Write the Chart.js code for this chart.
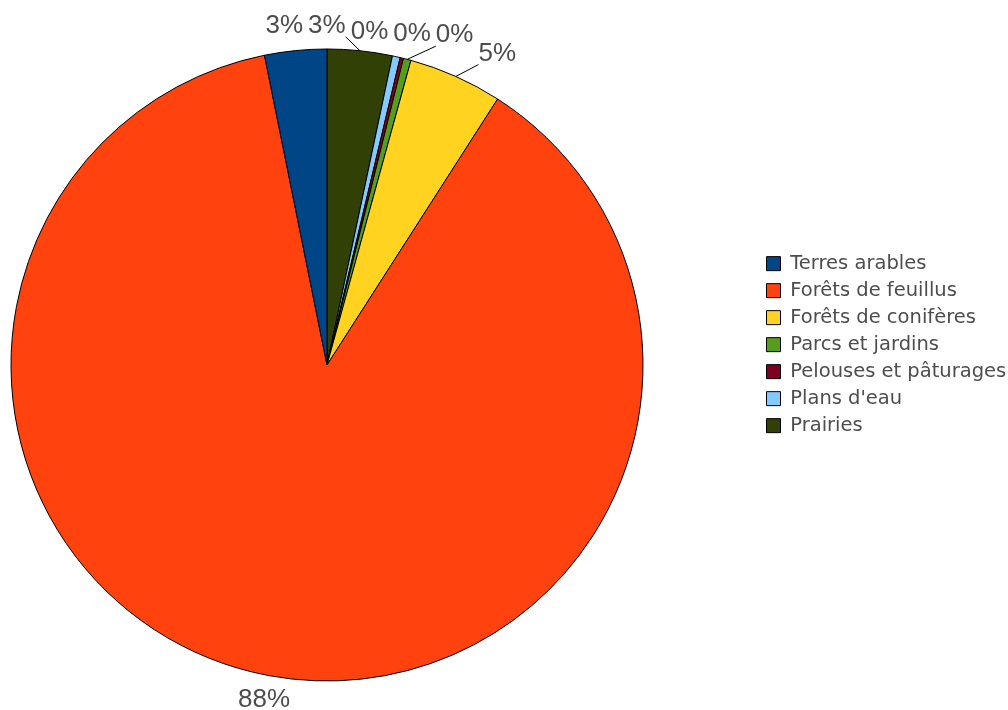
<!DOCTYPE html>
<html>
<head>
<meta charset="utf-8">
<script src="https://cdn.jsdelivr.net/npm/chart.js@4.4.0/dist/chart.umd.min.js"></script>
<style>
body { margin: 0; background: #fff; }
#wrap { position: relative; width: 1008px; height: 710px; overflow: hidden; }
/* the pie sits left of centre in the original, so the canvas is wider and shifted left */
#chart { position: absolute; left: -105px; top: 0; }
</style>
</head>
<body>
<div id="wrap"><canvas id="chart" width="1114" height="710"></canvas></div>
<script>
// legend order
var categories = ['Terres arables', 'Forêts de feuillus', 'Forêts de conifères', 'Parcs et jardins',
    'Pelouses et pâturages', "Plans d'eau", 'Prairies'];
var shares = [3.17, 87.75, 4.8, 0.39, 0.17, 0.40, 3.32];
var colors = ['#004586', '#ff420e', '#ffd320', '#579d1c', '#7e0021', '#83caff', '#314004'];

// slices run counterclockwise from the top in the original, so draw them reversed
var drawOrder = categories.map((c, i) => i).reverse();

var labelColor = '#4d4d4d';

function spread(items) {
    var blocks = [];
    items.forEach(function (it) {
        blocks.push({ items: [it], offs: [0], x: it.nx });
        while (blocks.length > 1) {
            var b2 = blocks[blocks.length - 1], b1 = blocks[blocks.length - 2];
            var last = b1.items[b1.items.length - 1], first = b2.items[0];
            var need = Math.abs(last.y - first.y) < last.h ? (last.w + first.w) / 2 + 5 : 0;
            var lastX = b1.x + b1.offs[b1.offs.length - 1];
            if (lastX + need <= b2.x) break;
            var base = b1.offs[b1.offs.length - 1] + need;
            b2.items.forEach(function (t, k) {
                b1.items.push(t);
                b1.offs.push(base + b2.offs[k]);
            });
            var sum = 0;
            b1.items.forEach(function (t, k) { sum += t.nx - b1.offs[k]; });
            b1.x = sum / b1.items.length;
            blocks.pop();
        }
    });
    blocks.forEach(function (b) {
        b.items.forEach(function (t, k) { t.x = b.x + b.offs[k]; });
    });
}

function clamp(v, lo, hi) {
    return Math.max(lo, Math.min(hi, v));
}

var sliceLabels = {
    id: 'sliceLabels',
    afterDatasetsDraw: function (chart) {
        var ctx = chart.ctx;
        var meta = chart.getDatasetMeta(0);
        var data = chart.data.datasets[0].data;
        var total = data.reduce((a, b) => a + b, 0);
        ctx.save();
        ctx.font = '26px "Liberation Sans"';
        var labels = meta.data.map(function (arc, i) {
            var a = (arc.startAngle + arc.endAngle) / 2;
            var text = Math.round(data[i] / total * 100) + '%';
            var rl = arc.outerRadius + 25;
            return {
                text: text, a: a, cx: arc.x, cy: arc.y, r: arc.outerRadius,
                nx: arc.x + rl * Math.cos(a),
                x: arc.x + rl * Math.cos(a),
                y: arc.y + rl * Math.sin(a),
                w: ctx.measureText(text).width, h: 22
            };
        });
        spread(labels.filter(l => l.y < l.cy).sort((p, q) => p.nx - q.nx));
        spread(labels.filter(l => l.y >= l.cy).sort((p, q) => p.nx - q.nx));

        ctx.strokeStyle = '#000';
        ctx.lineWidth = 1;
        ctx.fillStyle = labelColor;
        ctx.textAlign = 'center';
        ctx.textBaseline = 'middle';
        labels.forEach(function (l) {
            var ex = l.cx + l.r * Math.cos(l.a);
            var ey = l.cy + l.r * Math.sin(l.a);
            var bx = clamp(ex, l.x - l.w / 2, l.x + l.w / 2);
            var by = clamp(ey, l.y - l.h / 2, l.y + l.h / 2);
            if (Math.hypot(bx - ex, by - ey) > 19) {
                ctx.beginPath();
                ctx.moveTo(ex, ey);
                ctx.lineTo(bx, by);
                ctx.stroke();
            }
            ctx.fillText(l.text, l.x, l.y);
        });
        ctx.restore();
    }
};

new Chart(document.getElementById('chart'), {
    type: 'pie',
    data: {
        labels: drawOrder.map(i => categories[i]),
        datasets: [{
            data: drawOrder.map(i => shares[i]),
            backgroundColor: drawOrder.map(i => colors[i]),
            borderColor: '#000',
            borderWidth: 1,
            hoverOffset: 0,
            radius: 316
        }]
    },
    options: {
        responsive: false,
        animation: false,
        layout: {
            padding: { left: 0, right: 0, top: 49, bottom: 29 }
        },
        plugins: {
            tooltip: { enabled: false },
            legend: {
                position: 'right',
                align: 'start',
                reverse: true,
                maxWidth: 250,
                title: { display: true, text: ' ', padding: { top: 183, bottom: 0 } },
                labels: {
                    boxWidth: 14,
                    boxHeight: 14,
                    padding: 7.5,
                    color: labelColor,
                    font: { family: 'DejaVu Sans', size: 19.5 }
                }
            }
        }
    },
    plugins: [sliceLabels]
});
</script>
</body>
</html>
